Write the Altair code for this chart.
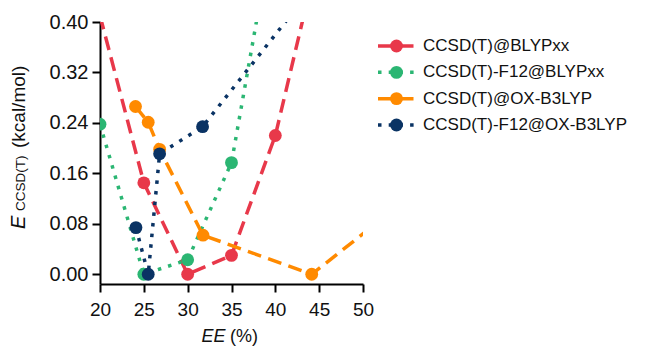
import altair as alt
import pandas as pd

# ---------------- data ----------------
series_names = ["CCSD(T)@BLYPxx", "CCSD(T)-F12@BLYPxx",
                "CCSD(T)@OX-B3LYP", "CCSD(T)-F12@OX-B3LYP"]
series_colors = ["#E8384A", "#2BB673", "#FF8A00", "#0A3364"]
series_dashes = [[14, 7.5], [3.5, 7.2], [14, 7.5], [3.5, 7.2]]

red_x = [20, 25, 30, 35, 40, 45]
red_y = [0.41, 0.145, 0.0, 0.030, 0.220, 0.513]

green_x = [20, 25, 30, 35, 40]
green_y = [0.238, 0.0, 0.023, 0.177, 0.570]

orange_x = [24.05, 25.5, 26.8, 31.75, 44.15, 56.0]
orange_y = [0.266, 0.241, 0.198, 0.062, 0.0, 0.130]

navy_x = [24.1, 25.5, 26.8, 31.7, 45.0]
navy_y = [0.074, 0.0, 0.191, 0.234, 0.468]

x_ticks = [20, 25, 30, 35, 40, 45, 50]
y_ticks = [0.0, 0.08, 0.16, 0.24, 0.32, 0.40]

xs = [red_x, green_x, orange_x, navy_x]
ys = [red_y, green_y, orange_y, navy_y]

rows = []
for name, sx, sy in zip(series_names, xs, ys):
    for i, (a, b) in enumerate(zip(sx, sy)):
        rows.append({"series": name, "x": a, "y": b, "i": i})
df = pd.DataFrame(rows)

FONT = "Liberation Sans, Arial, sans-serif"
W, H = 263, 262

x_scale = alt.Scale(domain=[20, 50], nice=False, zero=False)
y_scale = alt.Scale(domain=[-0.0154, 0.40], nice=False, zero=False)
color_scale = alt.Scale(domain=series_names, range=series_colors)
dash_scale = alt.Scale(domain=series_names, range=series_dashes)

x_enc = alt.X("x:Q", scale=x_scale,
              axis=alt.Axis(values=x_ticks, title=None, format="d",
                            labelFlush=False, labelPadding=8, labelFontSize=19))
y_enc = alt.Y("y:Q", scale=y_scale,
              axis=alt.Axis(values=y_ticks, title=None, format=".2f",
                            labelFlush=False, labelPadding=4, labelFontSize=20))

layers = []
for name in series_names:
    base = alt.Chart(df).transform_filter(alt.datum.series == name)
    line = base.mark_line(strokeWidth=3.5, clip=True, strokeCap="butt").encode(
        x=x_enc, y=y_enc, order="i:Q",
        color=alt.Color("series:N", scale=color_scale, legend=None),
        strokeDash=alt.StrokeDash("series:N", scale=dash_scale, legend=None),
    )
    pts = base.transform_filter(
        (alt.datum.y <= 0.40) & (alt.datum.x <= 50)
    ).mark_point(filled=True, size=165, opacity=1, clip=True, shape="circle").encode(
        x=x_enc, y=y_enc,
        color=alt.Color("series:N", scale=color_scale, legend=None),
    )
    layers += [line, pts]

one = pd.DataFrame({"k": [0]})
def label(txt, x, y, size, angle=0, style="normal"):
    return alt.Chart(one).mark_text(
        text=txt, align="left", baseline="alphabetic", angle=angle,
        fontSize=size, font=FONT, fontStyle=style, color="#111111"
    ).encode(x=alt.value(x), y=alt.value(y))

titles = [
    label("E", -75, 207, 20, 270, "italic"),
    label("CCSD(T)", -75, 189, 13.5, 270),
    label("(kcal/mol)", -75, 126, 19, 270),
    label("EE", 101.5, 320, 18, 0, "italic"),
    label("(%)", 130, 320, 18, 0),
]

main = alt.layer(*layers, *titles)

leg_df = pd.DataFrame({"series": series_names})
leg_y = alt.Y("series:N", scale=alt.Scale(type="point", domain=series_names,
                                          range=[24, 103], padding=0), axis=None)
leg_rule = alt.Chart(leg_df).mark_rule(strokeWidth=3.5, strokeCap="butt").encode(
    x=alt.value(278), x2=alt.value(315), y=leg_y,
    color=alt.Color("series:N", scale=color_scale, legend=None),
    strokeDash=alt.StrokeDash("series:N", scale=dash_scale, legend=None),
)
leg_pt = alt.Chart(leg_df).mark_point(filled=True, size=165, opacity=1, shape="circle").encode(
    x=alt.value(296.5), y=leg_y,
    color=alt.Color("series:N", scale=color_scale, legend=None),
)
leg_txt = alt.Chart(leg_df).mark_text(align="left", baseline="middle", fontSize=17,
                                      font=FONT, color="#111111").encode(
    x=alt.value(323), y=leg_y, text="series:N")
legend = alt.layer(leg_rule, leg_pt, leg_txt)

chart = alt.layer(main, legend).resolve_scale(y="independent").properties(
    width=W, height=H,
    autosize=alt.AutoSizeParams(type="none"),
    padding={"left": 92, "top": 14, "right": 277, "bottom": 63},
).configure_view(stroke=None).configure_axis(
    grid=False, domainColor="black", domainWidth=2, tickColor="black",
    tickWidth=2, tickSize=8, labelFont=FONT, labelColor="#111111",
)

chart.save("out.html", embed_options={"renderer": "svg", "actions": False})
